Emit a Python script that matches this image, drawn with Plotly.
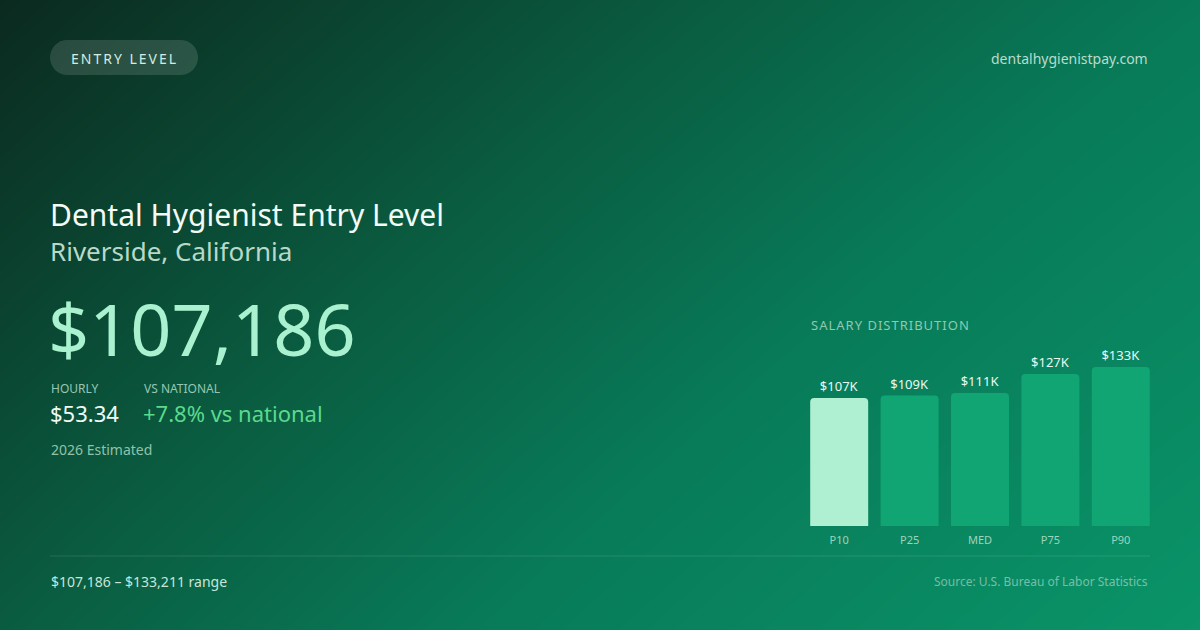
import plotly.graph_objects as go

# ---- data ----
categories = ["P10", "P25", "MED", "P75", "P90"]
salaries = [107186, 109200, 111300, 127400, 133211]
bar_labels = ["$107K", "$109K", "$111K", "$127K", "$133K"]

badge_text = "ENTRY LEVEL"
site_text = "dentalhygienistpay.com"
title_text = "Dental Hygienist Entry Level"
location_text = "Riverside, California"
annual_text = "$107,186"
hourly_label = "HOURLY"
hourly_value = "$53.34"
national_label = "VS NATIONAL"
national_value = "+7.8% vs national"
estimate_text = "2026 Estimated"
dist_title = "SALARY DISTRIBUTION"
range_text = "$107,186 – $133,211 range"
source_text = "Source: U.S. Bureau of Labor Statistics"

W, H = 1200, 630
FONT = "Noto Sans"

fig = go.Figure()

# background gradient (bilinear heatmap on a pixel-space axis)
fig.add_trace(go.Heatmap(
    x=[0, W], y=[0, H], z=[[0.0, 0.6], [0.35, 1.0]],
    zsmooth="best", showscale=False, hoverinfo="skip",
    colorscale=[[0, "#0b2a1f"], [0.35, "#0a5c40"], [0.6, "#087a58"], [1, "#0a9468"]],
    xaxis="x", yaxis="y",
))

bar_colors = ["#aef0d1"] + ["#10a573"] * (len(categories) - 1)
fig.add_trace(go.Bar(
    x=categories, y=salaries, text=bar_labels,
    textposition="outside", cliponaxis=False,
    textfont=dict(family=FONT, size=13, color="#eaf8f2"),
    marker=dict(color=bar_colors, line=dict(width=0)),
    hoverinfo="skip", xaxis="x2", yaxis="y2",
))

fig.update_layout(
    width=W, height=H,
    margin=dict(l=0, r=0, t=0, b=0),
    paper_bgcolor="#0a5c40", plot_bgcolor="rgba(0,0,0,0)",
    showlegend=False,
    barcornerradius=4,
    bargap=0.176,
    font=dict(family=FONT),
    xaxis=dict(domain=[0, 1], range=[0, W], visible=False, fixedrange=True),
    yaxis=dict(domain=[0, 1], range=[H, 0], visible=False, fixedrange=True),
    xaxis2=dict(domain=[804 / W, 1156 / W], anchor="y2", showgrid=False, zeroline=False,
                showline=False, ticks="", ticklabelstandoff=6, fixedrange=True,
                tickfont=dict(family=FONT, size=11, color="#9fd3bc")),
    yaxis2=dict(domain=[1 - 526 / H, 1 - 340 / H], anchor="x2", range=[0, 155780],
                visible=False, showgrid=False, zeroline=False, fixedrange=True),
)

k = 0.5523
r = 17.5
x0, x1, y0, y1 = 50, 198, 40, 75
cy = (y0 + y1) / 2
lc, rc = x0 + r, x1 - r
pill = (f"M {lc},{y0} L {rc},{y0} "
        f"C {rc + k * r},{y0} {x1},{cy - k * r} {x1},{cy} "
        f"C {x1},{cy + k * r} {rc + k * r},{y1} {rc},{y1} "
        f"L {lc},{y1} "
        f"C {lc - k * r},{y1} {x0},{cy + k * r} {x0},{cy} "
        f"C {x0},{cy - k * r} {lc - k * r},{y0} {lc},{y0} Z")
fig.add_shape(type="path", path=pill, xref="x", yref="y", layer="above",
              fillcolor="rgba(255,255,255,0.13)", line=dict(width=0))
fig.add_shape(type="line", x0=50, x1=1150, y0=556, y1=556, xref="x", yref="y",
              layer="above", line=dict(color="rgba(255,255,255,0.12)", width=1))


def txt(x, y, s, size, color, xanchor="left"):
    fig.add_annotation(x=x, y=y, xref="x", yref="y", text=s, showarrow=False,
                       xanchor=xanchor, yanchor="middle", borderpad=0,
                       font=dict(family=FONT, size=size, color=color))


txt(124, 58, f'<span style="letter-spacing:2px">{badge_text}</span>', 14, "#d3ece1", "center")
txt(1149, 58, site_text, 14, "#b9dccc", "right")
txt(49, 214, title_text, 30, "#f2fbf7")
txt(49, 251, location_text, 26, "#b8d9ca")
txt(47, 328, annual_text, 72, "#a9f1cf")
txt(50, 388, hourly_label, 12, "#98c6b2")
txt(143, 388, national_label, 12, "#98c6b2")
txt(49, 413, hourly_value, 22, "#f0faf5")
txt(142, 413, national_value, 22, "#5cd98c")
txt(50, 449, estimate_text, 14, "#90c2ab")
txt(810, 325, f'<span style="letter-spacing:1px">{dist_title}</span>', 13, "#8fc9b0")
txt(50, 581, range_text, 14, "#c8e5d8")
txt(1149, 581, source_text, 12, "rgba(255,255,255,0.45)", "right")

fig.write_html("out.html", config={"displayModeBar": False, "staticPlot": True},
               post_script="document.body.style.margin='0';")
